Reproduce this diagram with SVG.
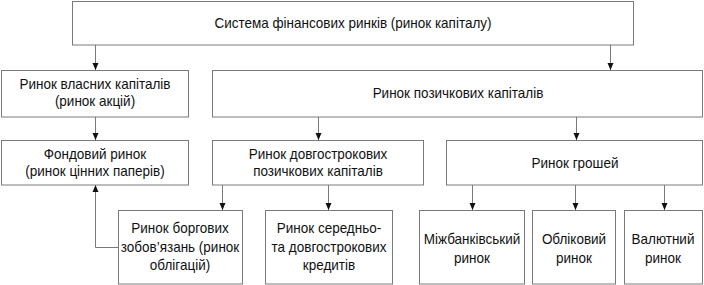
<svg xmlns="http://www.w3.org/2000/svg" width="704" height="285" viewBox="0 0 704 285">
<style>
.box{fill:#fff;stroke:#7a7a7a;stroke-width:1}
.t{font-family:"Liberation Sans",Arial,sans-serif;font-size:15px;fill:#111;text-anchor:middle}
.c{fill:none;stroke:#7a7a7a;stroke-width:1}
</style>
<defs>
<marker id="ah" markerUnits="userSpaceOnUse" markerWidth="8" markerHeight="8" refX="7" refY="3.5" orient="auto">
<path d="M0,0.5 L7,3.5 L0,6.5 Z" fill="#111"/>
</marker>
</defs>
<rect width="704" height="285" fill="#fff"/>
<g id="connectors">
<path class="c" d="M95.5,45 V70" marker-end="url(#ah)"/>
<path class="c" d="M610.5,45 V70" marker-end="url(#ah)"/>
<path class="c" d="M95.5,117 V140" marker-end="url(#ah)"/>
<path class="c" d="M318.5,117 V140" marker-end="url(#ah)"/>
<path class="c" d="M576.5,117 V140" marker-end="url(#ah)"/>
<path class="c" d="M222.5,185 V210" marker-end="url(#ah)"/>
<path class="c" d="M328.5,185 V210" marker-end="url(#ah)"/>
<path class="c" d="M472.5,185 V210" marker-end="url(#ah)"/>
<path class="c" d="M575.5,185 V210" marker-end="url(#ah)"/>
<path class="c" d="M664.5,185 V210" marker-end="url(#ah)"/>
<path class="c" d="M118,247.5 H95.5 V185" marker-end="url(#ah)"/>
</g>
<g id="n-system">
<rect class="box" x="72.5" y="1.5" width="561" height="43.5"/>
<text class="t" transform="translate(353,28) scale(0.9,1)">Система фінансових ринків (ринок капіталу)</text>
</g>
<g id="n-equity">
<rect class="box" x="1.5" y="70.5" width="187" height="46.5"/>
<text class="t" transform="translate(95,89) scale(0.9,1)">Ринок власних капіталів</text>
<text class="t" transform="translate(95,106) scale(0.9,1)">(ринок акцій)</text>
</g>
<g id="n-loan">
<rect class="box" x="212.5" y="70.5" width="490" height="46.5"/>
<text class="t" transform="translate(458,98) scale(0.9,1)">Ринок позичкових капіталів</text>
</g>
<g id="n-stock">
<rect class="box" x="1.5" y="140.5" width="187" height="44.5"/>
<text class="t" transform="translate(95,159) scale(0.9,1)">Фондовий ринок</text>
<text class="t" transform="translate(95,176) scale(0.9,1)">(ринок цінних паперів)</text>
</g>
<g id="n-longterm">
<rect class="box" x="212.5" y="140.5" width="211" height="44.5"/>
<text class="t" transform="translate(318,159) scale(0.9,1)">Ринок довгострокових</text>
<text class="t" transform="translate(318,176) scale(0.9,1)">позичкових капіталів</text>
</g>
<g id="n-money">
<rect class="box" x="446.5" y="140.5" width="256" height="44.5"/>
<text class="t" transform="translate(575,168) scale(0.9,1)">Ринок грошей</text>
</g>
<g id="n-bonds">
<rect class="box" x="118.5" y="210.5" width="124" height="73.5"/>
<text class="t" transform="translate(180,233) scale(0.9,1)">Ринок боргових</text>
<text class="t" transform="translate(180,252) scale(0.9,1)">зобов’язань (ринок</text>
<text class="t" transform="translate(180,270) scale(0.9,1)">облігацій)</text>
</g>
<g id="n-credits">
<rect class="box" x="265.5" y="210.5" width="127" height="73.5"/>
<text class="t" transform="translate(329,233) scale(0.9,1)">Ринок середньо-</text>
<text class="t" transform="translate(329,252) scale(0.9,1)">та довгострокових</text>
<text class="t" transform="translate(329,270) scale(0.9,1)">кредитів</text>
</g>
<g id="n-interbank">
<rect class="box" x="419.5" y="210.5" width="105" height="73.5"/>
<text class="t" transform="translate(472,244) scale(0.9,1)">Міжбанківський</text>
<text class="t" transform="translate(472,263) scale(0.9,1)">ринок</text>
</g>
<g id="n-discount">
<rect class="box" x="532.5" y="210.5" width="83" height="73.5"/>
<text class="t" transform="translate(574,244) scale(0.9,1)">Обліковий</text>
<text class="t" transform="translate(574,263) scale(0.9,1)">ринок</text>
</g>
<g id="n-fx">
<rect class="box" x="624.5" y="210.5" width="78" height="73.5"/>
<text class="t" transform="translate(663,244) scale(0.9,1)">Валютний</text>
<text class="t" transform="translate(663,263) scale(0.9,1)">ринок</text>
</g>
</svg>
